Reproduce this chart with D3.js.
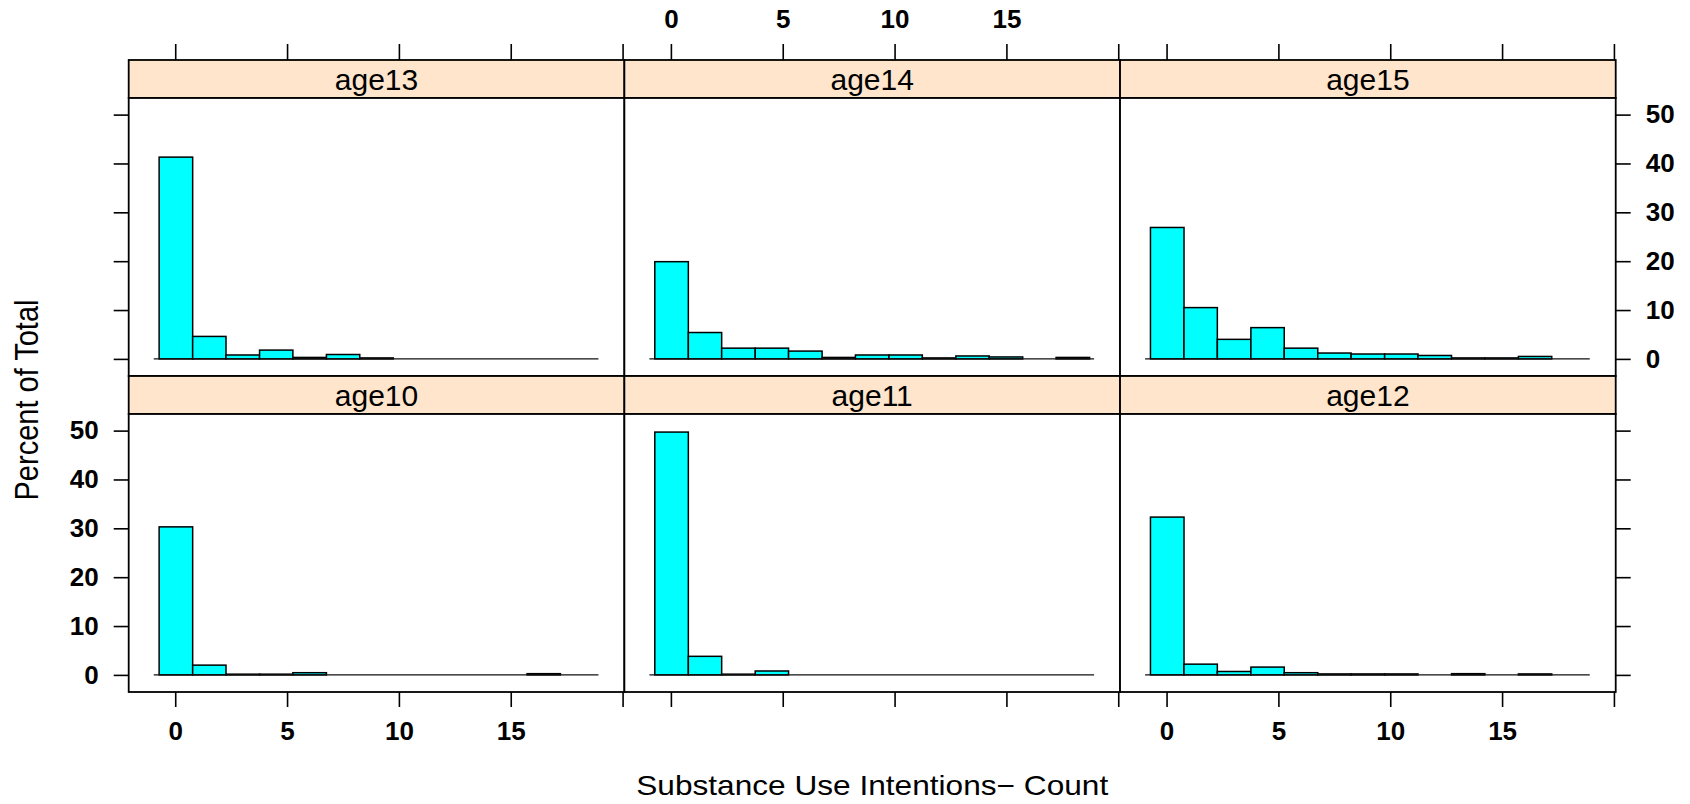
<!DOCTYPE html>
<html>
<head>
<meta charset="utf-8">
<script src="https://cdn.jsdelivr.net/npm/d3@7"></script>
<style>
  body { margin: 0; background: #fff; }
  svg { display: block; font-family: 'Liberation Sans', Arial, sans-serif; }
  .axis text { font-size: 26px; font-weight: bold; fill: #000; }
  .axis line { stroke: #000; stroke-width: 1.6; }
</style>
</head>
<body>
<div id="container"></div>
<script>
// panels in lattice order: top row first, then bottom row
const panelNames = ['age13', 'age14', 'age15', 'age10', 'age11', 'age12'];

// histogram bin edges (13 bins)
const breaks = [-0.72, 0.78, 2.27, 3.77, 5.26, 6.76, 8.25, 9.75, 11.24, 12.74, 14.23, 15.73, 17.22, 18.72];

// percent of total per bin
const age13 = [41.3, 4.6, 0.8, 1.8, 0.3, 0.9, 0.2, 0, 0, 0, 0, 0, 0];
const age14 = [19.9, 5.4, 2.2, 2.2, 1.6, 0.3, 0.8, 0.8, 0.2, 0.6, 0.4, 0, 0.3];
const age15 = [26.9, 10.5, 4.0, 6.4, 2.2, 1.2, 1.0, 1.0, 0.7, 0.2, 0.2, 0.5, 0];
const age10 = [30.3, 2.0, 0.15, 0.15, 0.45, 0, 0, 0, 0, 0, 0, 0.25, 0];
const age11 = [49.7, 3.8, 0.15, 0.8, 0, 0, 0, 0, 0, 0, 0, 0, 0];
const age12 = [32.3, 2.2, 0.7, 1.6, 0.45, 0.2, 0.2, 0.2, 0, 0.25, 0, 0.2, 0];
const percents = [age13, age14, age15, age10, age11, age12];

const xTicks = [0, 5, 10, 15, 20];
const xTickLabels = ['0', '5', '10', '15', ''];
const yTicks = [0, 10, 20, 30, 40, 50];

const xLimits = [-2.08, 20.08];
const yLimits = [-3.5, 53.4];
const baseRange = [-0.96, 18.92];

const width = 1690;
const height = 804;
const leftX = 128.7;
const topY = 60;
const panelW = 495.67;
const stripH = 38;
const dataH = 278;
const rowH = stripH + dataH;

const svg = d3
  .select('#container')
  .append('svg')
  .attr('width', width)
  .attr('height', height);

const xScale = d3.scaleLinear().domain(xLimits).range([0, panelW]);
const yScale = d3.scaleLinear().domain(yLimits).range([dataH, 0]);

panelNames.forEach((name, i) => {
  const row = Math.floor(i / 3);
  const col = i % 3;
  const gx = leftX + col * panelW;
  const gy = topY + row * rowH;
  const vals = percents[i];

  const g = svg.append('g').attr('transform', 'translate(' + gx + ',' + gy + ')');

  // strip
  g.append('rect')
    .attr('width', panelW)
    .attr('height', stripH)
    .attr('fill', '#ffe5cc')
    .attr('stroke', '#000')
    .attr('stroke-width', 1.8);
  g.append('text')
    .attr('x', panelW / 2)
    .attr('y', 30)
    .attr('text-anchor', 'middle')
    .style('font-size', '30px')
    .text(name);

  // panel box
  g.append('rect')
    .attr('y', stripH)
    .attr('width', panelW)
    .attr('height', dataH)
    .attr('fill', '#fff')
    .attr('stroke', '#000')
    .attr('stroke-width', 1.8);

  const plot = g.append('g').attr('transform', 'translate(0,' + stripH + ')');

  plot
    .selectAll('rect.bar')
    .data(vals.map((v, j) => ({ v: v, x0: breaks[j], x1: breaks[j + 1] })).filter(d => d.v > 0))
    .enter()
    .append('rect')
    .attr('class', 'bar')
    .attr('x', d => xScale(d.x0))
    .attr('width', d => xScale(d.x1) - xScale(d.x0))
    .attr('y', d => yScale(d.v))
    .attr('height', d => yScale(0) - yScale(d.v))
    .attr('fill', '#00ffff')
    .attr('stroke', '#000')
    .attr('stroke-width', 1.5);

  plot
    .append('line')
    .attr('x1', xScale(baseRange[0]))
    .attr('x2', xScale(baseRange[1]))
    .attr('y1', yScale(0))
    .attr('y2', yScale(0))
    .attr('stroke', '#111')
    .attr('stroke-width', 1.4);

  // top axis
  if (row === 0) {
    svg
      .append('g')
      .attr('class', 'axis')
      .attr('transform', 'translate(' + gx + ',' + topY + ')')
      .call(
        d3.axisTop(xScale)
          .tickValues(xTicks)
          .tickSize(16)
          .tickPadding(16)
          .tickFormat((d, k) => (col === 1 ? xTickLabels[k] : '')),
      )
      .call(a => a.select('.domain').remove());
  }

  // bottom axis
  if (row === 1) {
    svg
      .append('g')
      .attr('class', 'axis')
      .attr('transform', 'translate(' + gx + ',' + (topY + 2 * rowH) + ')')
      .call(
        d3.axisBottom(xScale)
          .tickValues(xTicks)
          .tickSize(15)
          .tickPadding(15)
          .tickFormat((d, k) => (col !== 1 ? xTickLabels[k] : '')),
      )
      .call(a => a.select('.domain').remove());
  }

  // left axis
  if (col === 0) {
    svg
      .append('g')
      .attr('class', 'axis')
      .attr('transform', 'translate(' + leftX + ',' + (gy + stripH) + ')')
      .call(
        d3.axisLeft(yScale)
          .tickValues(yTicks)
          .tickSize(15)
          .tickPadding(15)
          .tickFormat(d => (row === 1 ? d : '')),
      )
      .call(a => a.select('.domain').remove());
  }

  // right axis
  if (col === 2) {
    svg
      .append('g')
      .attr('class', 'axis')
      .attr('transform', 'translate(' + (leftX + 3 * panelW) + ',' + (gy + stripH) + ')')
      .call(
        d3.axisRight(yScale)
          .tickValues(yTicks)
          .tickSize(15)
          .tickPadding(15)
          .tickFormat(d => (row === 0 ? d : '')),
      )
      .call(a => a.select('.domain').remove());
  }
});

// axis titles
svg
  .append('text')
  .attr('transform', 'translate(38,400) scale(1.15,1) rotate(-90)')
  .attr('text-anchor', 'middle')
  .style('font-size', '29px')
  .text('Percent of Total');

svg
  .append('text')
  .attr('transform', 'translate(' + (leftX + 1.5 * panelW) + ',795) scale(1.13,1)')
  .attr('text-anchor', 'middle')
  .style('font-size', '28px')
  .text('Substance Use Intentions\u2212 Count');
</script>
</body>
</html>
